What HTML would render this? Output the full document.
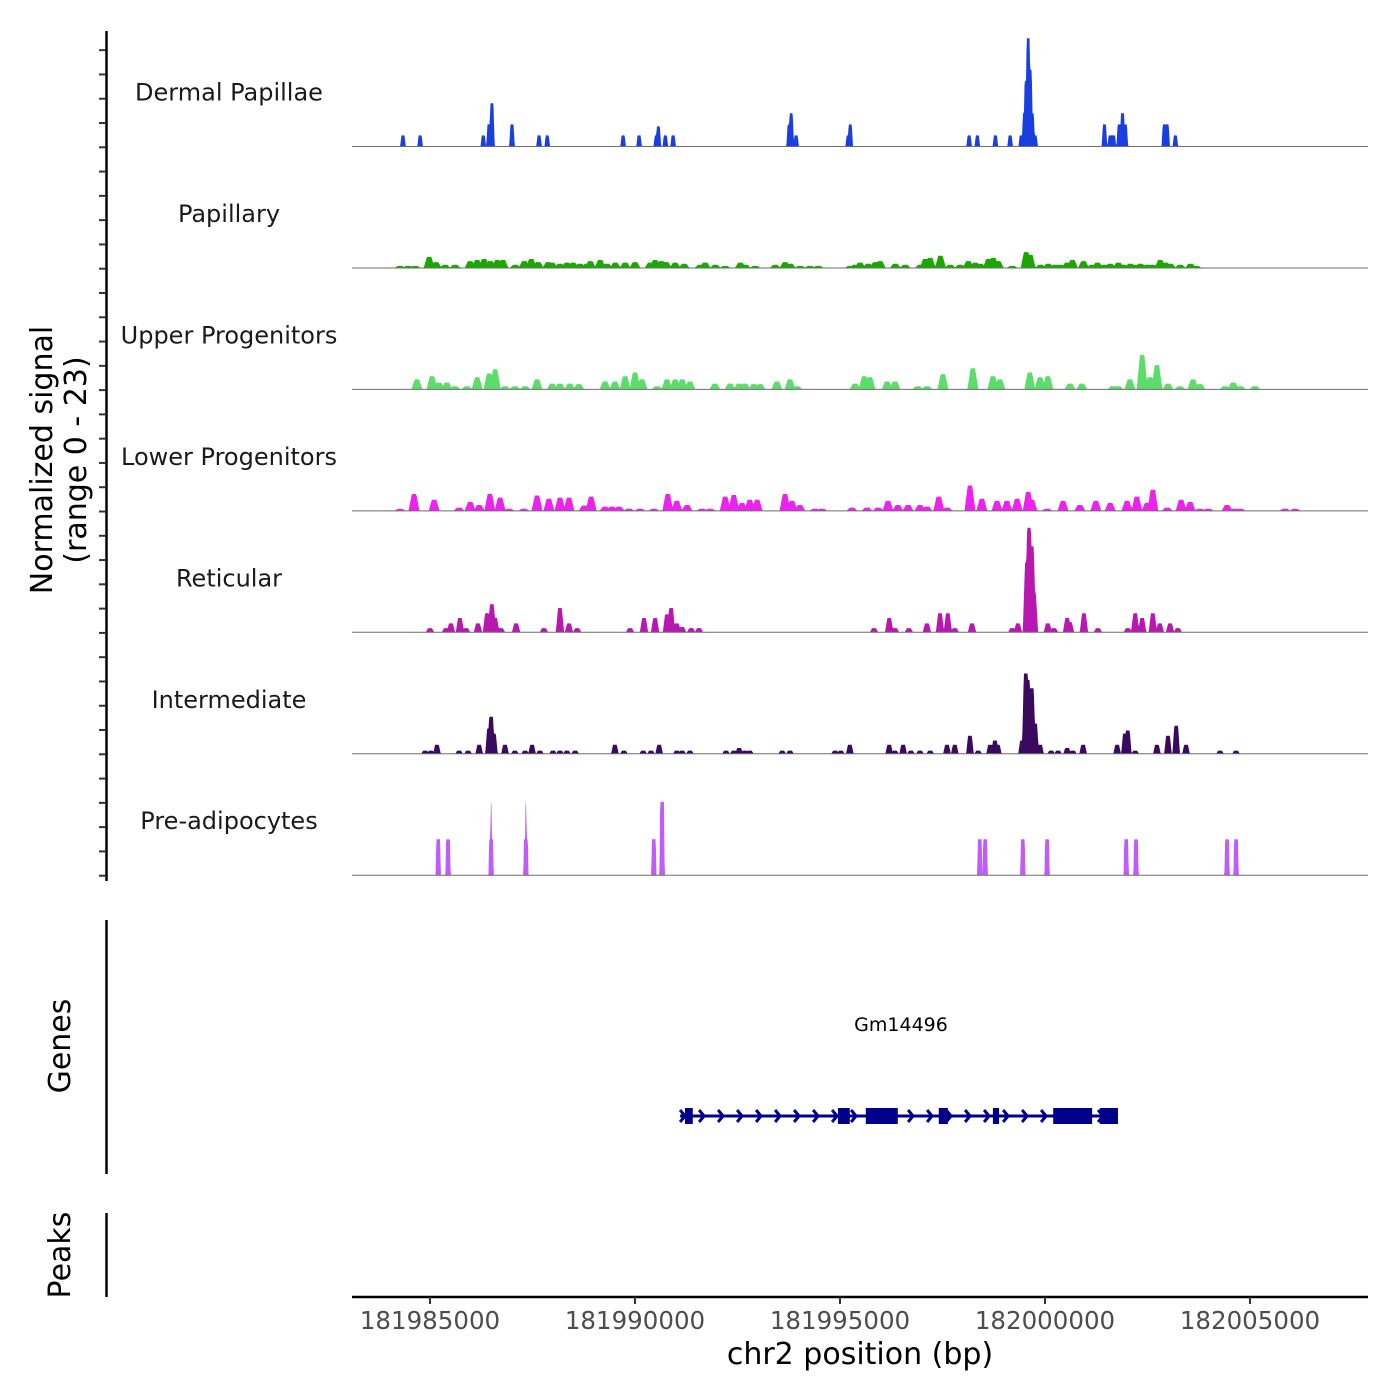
<!DOCTYPE html>
<html><head><meta charset="utf-8"><style>
html,body{margin:0;padding:0;background:#fff}
svg{display:block;font-family:"DejaVu Sans","Liberation Sans",sans-serif}
</style></head><body>
<svg id="chart" width="1400" height="1400" viewBox="0 0 1400 1400" xmlns="http://www.w3.org/2000/svg">
<rect width="1400" height="1400" fill="#fff"/>
<g id="tracks"></g>
<g id="labels"></g>
<g id="yaxis"></g>
<text transform="translate(52,460) rotate(-90)" text-anchor="middle" font-size="30" fill="#000">Normalized signal</text>
<text transform="translate(86,460) rotate(-90)" text-anchor="middle" font-size="30" fill="#000">(range 0 - 23)</text>
<line x1="106.5" y1="920" x2="106.5" y2="1174" stroke="#000" stroke-width="2.5"/>
<text transform="translate(70,1046) rotate(-90)" text-anchor="middle" font-size="30" fill="#000">Genes</text>
<line x1="106.5" y1="1213" x2="106.5" y2="1297" stroke="#000" stroke-width="2.5"/>
<text transform="translate(70,1255) rotate(-90)" text-anchor="middle" font-size="30" fill="#000">Peaks</text>
<g id="gene"></g>
<g id="xaxis"></g>
<text x="860" y="1364" text-anchor="middle" font-size="30" fill="#000">chr2 position (bp)</text>
</svg>
<script>
// ---- data (positions in kb offset from chr2:181,980,000; values = normalized signal) ----
const ORIGIN_BP = 181980000;
const trackNames = ["Dermal Papillae","Papillary","Upper Progenitors","Lower Progenitors","Reticular","Intermediate","Pre-adipocytes"];
const trackColors = ["#1a3fe0","#1aa800","#5cdc6a","#ee22ee","#b818b0","#3a0a5e","#c05cf8"];
const yMaxSignal = 23;

const dermalPos = [4.34,4.76,6.30,6.44,6.51,7.00,7.66,7.86,9.71,10.10,10.52,10.57,10.74,10.93,13.76,13.81,13.93,15.20,15.25,18.15,18.35,18.79,19.15,19.42,19.50,19.54,19.59,19.64,19.69,19.76,21.45,21.59,21.67,21.81,21.89,21.96,22.91,22.98,23.18];
const dermalVal = [2.1,2.1,2.1,4.2,8.2,4.2,2.1,2.1,2.1,2.1,2.1,3.8,2.1,2.1,4.2,6.3,2.1,2.1,4.2,2.1,2.1,2.1,2.1,2.1,6.3,12.4,20.5,14.5,6.3,2.1,4.2,2.1,2.1,4.2,6.3,4.2,4.2,4.2,2.1];

const papPos = [4.27,4.47,4.64,4.98,5.15,5.37,5.61,5.98,6.15,6.32,6.47,6.64,6.78,7.08,7.30,7.47,7.64,7.88,7.98,8.17,8.34,8.49,8.66,8.83,8.91,9.15,9.32,9.52,9.76,10.00,10.37,10.49,10.64,10.76,10.98,11.20,11.59,11.71,11.96,12.20,12.57,12.69,12.93,13.42,13.66,13.79,14.03,14.27,14.47,15.25,15.37,15.49,15.69,15.86,15.98,16.35,16.59,16.96,17.08,17.20,17.45,17.69,17.93,18.13,18.30,18.42,18.62,18.74,18.86,19.20,19.54,19.64,19.89,20.08,20.25,20.37,20.54,20.67,20.94,21.15,21.28,21.45,21.59,21.79,21.91,22.08,22.20,22.33,22.50,22.62,22.81,22.94,23.06,23.30,23.55,23.69];
const papVal = [0.4,0.4,0.4,2.1,1.1,0.6,0.6,1.3,1.5,1.7,1.3,1.5,1.5,0.6,1.3,1.7,1.1,1.1,1.0,0.8,1.0,1.0,0.8,0.8,1.3,1.5,0.8,1.0,1.0,1.1,1.0,1.5,1.3,1.1,1.0,0.8,0.6,1.0,0.6,0.4,1.0,0.6,0.4,0.6,1.1,0.8,0.4,0.4,0.4,0.4,0.6,1.0,0.8,1.1,1.3,0.8,0.6,0.6,1.7,1.9,2.3,0.6,0.6,1.3,1.0,0.8,1.7,1.9,1.3,0.4,3.0,2.5,0.6,0.8,0.6,0.6,1.0,1.5,1.3,0.6,1.0,0.6,0.8,1.0,0.6,0.8,0.6,0.8,0.6,0.6,1.5,1.0,0.8,0.6,0.8,0.4];

const upperPos = [4.68,5.05,5.22,5.41,5.61,5.90,6.15,6.44,6.59,6.83,7.07,7.32,7.61,7.98,8.17,8.41,8.63,9.27,9.51,9.76,10.00,10.17,10.54,10.78,10.98,11.15,11.34,11.95,12.32,12.54,12.68,12.90,13.05,13.46,13.78,13.95,15.37,15.59,15.73,16.15,16.34,16.90,17.12,17.51,18.24,18.73,18.90,19.63,19.88,20.07,20.61,20.90,21.66,21.78,22.07,22.37,22.56,22.73,23.00,23.29,23.61,23.78,24.39,24.59,24.76,25.12];
const upperVal = [1.9,2.5,1.3,1.3,0.6,0.6,2.3,3.0,3.8,0.6,0.6,0.6,1.9,1.1,1.1,1.1,1.0,1.5,1.5,2.5,3.2,1.9,0.6,1.9,1.9,1.9,1.5,1.1,1.1,1.1,1.1,1.0,1.0,1.5,1.9,0.6,1.1,2.5,2.3,1.5,1.5,0.6,0.6,2.9,4.0,2.5,1.9,3.2,2.3,2.5,1.1,1.1,0.6,0.6,1.9,6.5,2.3,4.6,1.1,0.6,1.9,1.0,0.6,1.3,0.6,0.6];

const lowerPos = [4.27,4.61,5.10,5.71,5.98,6.20,6.46,6.71,6.93,7.29,7.61,7.90,8.17,8.39,8.76,8.93,9.27,9.44,9.61,9.85,10.12,10.46,10.80,11.02,11.27,11.63,11.83,12.20,12.41,12.61,12.80,12.98,13.66,13.83,14.02,14.39,14.56,15.29,15.66,15.93,16.17,16.41,16.66,16.95,17.12,17.41,17.61,18.17,18.46,18.83,19.07,19.32,19.59,19.68,20.05,20.44,20.85,21.24,21.59,22.00,22.24,22.49,22.63,22.98,23.32,23.54,23.78,23.98,24.44,24.63,24.76,25.85,26.10];
const lowerVal = [0.4,3.2,2.1,0.6,1.7,1.1,3.2,2.5,0.4,0.4,2.9,2.3,2.5,2.5,1.0,2.7,0.8,0.8,0.8,0.4,0.4,0.4,3.2,1.9,1.1,0.4,0.4,2.7,3.0,1.5,2.1,2.1,3.2,1.9,1.1,0.4,0.4,0.6,0.6,0.6,1.9,1.1,1.1,1.1,0.8,2.7,0.6,4.8,2.3,1.9,1.9,2.3,3.6,2.1,0.4,1.9,1.1,1.9,1.5,1.9,2.7,1.5,4.0,0.6,2.1,1.7,0.4,0.4,1.1,0.4,0.4,0.4,0.4];

const retPos = [5.00,5.39,5.51,5.73,5.88,6.17,6.39,6.51,6.59,6.73,7.10,7.78,8.17,8.39,8.59,9.88,10.22,10.49,10.78,10.88,11.02,11.15,11.37,11.56,15.83,16.20,16.34,16.68,17.12,17.44,17.63,17.80,18.22,19.20,19.34,19.56,19.61,19.68,19.73,20.07,20.22,20.54,20.61,20.95,21.29,22.02,22.20,22.37,22.63,22.80,23.05,23.24];
const retVal = [0.8,0.8,1.7,2.7,0.8,1.7,3.6,5.3,2.7,0.8,1.7,0.8,4.6,1.7,0.8,0.8,2.7,2.7,3.4,4.6,1.7,1.0,0.8,0.8,0.8,2.7,0.8,0.8,1.7,3.6,3.6,0.8,1.7,0.8,1.7,13.3,19.8,16.3,7.6,1.7,0.8,2.7,1.9,3.6,0.8,0.8,3.6,2.7,3.6,1.7,1.7,0.8];

const intPos = [4.88,5.02,5.17,5.71,5.93,6.20,6.44,6.49,6.56,6.83,7.07,7.32,7.49,7.68,8.00,8.17,8.34,8.54,9.51,9.73,10.20,10.39,10.59,11.02,11.15,11.34,12.22,12.41,12.54,12.68,12.80,13.59,13.78,14.88,15.02,15.24,16.20,16.34,16.54,16.73,16.95,17.20,17.61,17.80,18.17,18.37,18.66,18.78,18.85,19.44,19.53,19.58,19.68,19.76,19.88,20.15,20.32,20.54,20.68,20.93,21.76,21.95,22.02,22.20,22.73,23.00,23.20,23.44,24.27,24.66];
const intVal = [0.6,0.6,1.7,0.6,0.6,1.7,4.8,7.0,3.8,1.7,0.6,0.6,1.7,0.6,0.6,0.6,0.6,0.6,1.7,0.6,0.6,0.6,1.7,0.6,0.6,0.6,0.6,0.6,1.1,0.6,0.6,0.6,0.6,0.6,0.6,1.7,1.7,0.6,1.7,0.6,0.6,0.6,1.7,1.7,3.4,0.6,1.7,2.5,1.7,2.5,15.2,14.0,12.4,5.7,1.7,0.6,0.6,1.1,0.6,1.7,1.7,3.8,4.4,0.6,1.7,3.4,5.3,1.7,0.6,0.6];

const prePos = [5.20,5.44,6.49,7.34,10.46,10.66,18.41,18.54,19.46,20.05,21.98,22.22,24.44,24.66];
const preVal = [6.8,6.8,6.8,6.8,6.8,13.9,6.8,6.8,6.8,6.8,6.8,6.8,6.8,6.8];
const preSpikePos = [6.49,7.34];
const preSpikeVal = [13.9,13.9];

const xTickVals = [181985000,181990000,181995000,182000000,182005000];
const xTickLabels = ["181985000","181990000","181995000","182000000","182005000"];

const geneName = "Gm14496";
const geneStartKb = 11.10, geneEndKb = 21.78;
const exonStarts = [11.22,14.95,15.63,17.41,18.73,20.20,21.34];
const exonEnds   = [11.41,15.24,16.41,17.63,18.88,21.15,21.78];

// ---- scales ----
const X0 = 352, X1 = 1368, BP0 = 181983098, PXBP = 0.041;
function xScale(bp){ return X0 + (bp - BP0) * PXBP; }
function xKb(kb){ return xScale(ORIGIN_BP + kb*1000); }
const baseY0 = 146.5, trackStep = 121.45;
function baseline(i){ return baseY0 + i*trackStep; }
function yScale(i, v){ return baseline(i) - v / yMaxSignal * trackStep; }

const NS = "http://www.w3.org/2000/svg";
function mk(tag, attrs, parent){ const e = document.createElementNS(NS, tag); for (const k in attrs) e.setAttribute(k, attrs[k]); if (parent) parent.appendChild(e); return e; }

const trackPos = [dermalPos, papPos, upperPos, lowerPos, retPos, intPos, prePos];
const trackVal = [dermalVal, papVal, upperVal, lowerVal, retVal, intVal, preVal];
const halfW = [2.8, 5.5, 5.5, 5.5, 4.2, 3.8, 2.6]; // px half-widths of peak shape
const plateau = [0.45, 0.6, 0.6, 0.6, 0.55, 0.5, 0.25];
const gT = document.getElementById('tracks');
const gL = document.getElementById('labels');

function profilePath(i, pos, val, hw, pl, extraPos, extraVal, extraHw){
  const step = 0.5; let d = "M" + X0 + "," + baseline(i);
  const cx = pos.map(xKb), ex = (extraPos||[]).map(xKb);
  for (let x = X0; x <= X1; x += step){
    let v = 0;
    for (let k = 0; k < cx.length; k++){
      const dist = Math.abs(x - cx[k]);
      if (dist < hw){ const f = Math.min(1, (hw - dist) / (hw*pl)); v = Math.max(v, val[k]*f); }
    }
    for (let k = 0; k < ex.length; k++){
      const dist = Math.abs(x - ex[k]);
      if (dist < extraHw){ const f = Math.min(1, (extraHw - dist)/(extraHw*0.6)); v = Math.max(v, extraVal[k]*f); }
    }
    d += "L" + x.toFixed(1) + "," + yScale(i, v).toFixed(2);
  }
  d += "L" + X1 + "," + baseline(i) + "Z";
  return d;
}

for (let i = 0; i < trackNames.length; i++){
  const g = mk('g', {}, gT);
  
  
  const isPre = i === 6;
  const p = mk('path', {d: profilePath(i, trackPos[i], trackVal[i], halfW[i], plateau[i], isPre?preSpikePos:null, isPre?preSpikeVal:null, 1.0), fill: trackColors[i]}, g);
  
  
  const bl = mk('line', {x1: X0, x2: X1, y1: baseline(i), y2: baseline(i), stroke: '#6e6e6e', 'stroke-width': 1}, g);
  
  
  const t = mk('text', {x: 229, y: baseline(i) - 46, 'text-anchor': 'middle', 'font-size': 24, fill: '#1a1a1a'}, gL);
  
  
  t.textContent = trackNames[i];
}

// y axis with ticks
const gY = document.getElementById('yaxis');
const yl = mk('line', {x1: 106.5, x2: 106.5, y1: 31, y2: 881, stroke: '#000', 'stroke-width': 2.5}, gY);


for (let k = 0; k < 35; k++){
  const y = 875.7 - k*24.28;
  const tk = mk('line', {x1: 99, x2: 106, y1: y, y2: y, stroke: '#333', 'stroke-width': 2}, gY);
  
  
}

// gene track
const gG = document.getElementById('gene');
const gy = 1116, gcol = '#00008b';
const gl = mk('line', {x1: xKb(geneStartKb), x2: xKb(geneEndKb), y1: gy, y2: gy, stroke: gcol, 'stroke-width': 3}, gG);


for (let x = xKb(geneStartKb) + 3; x < xKb(geneEndKb) - 4; x += 19){
  const ch = mk('polyline', {points: (x-3)+","+(gy-6)+" "+(x+2)+","+gy+" "+(x-3)+","+(gy+6), fill: 'none', stroke: gcol, 'stroke-width': 3}, gG);
  
  
}
for (let k = 0; k < exonStarts.length; k++){
  const x0 = xKb(exonStarts[k]), x1 = xKb(exonEnds[k]);
  const r = mk('rect', {x: x0, y: gy - 8, width: Math.max(3, x1 - x0), height: 16, fill: gcol}, gG);
  
  
}
const gt = mk('text', {x: (xKb(geneStartKb)+xKb(geneEndKb))/2 + 2, y: 1031, 'text-anchor': 'middle', 'font-size': 19, fill: '#000'}, gG);


gt.textContent = geneName;

// x axis
const gX = document.getElementById('xaxis');
const xl = mk('line', {x1: X0, x2: X1, y1: 1297, y2: 1297, stroke: '#000', 'stroke-width': 2.5}, gX);


for (let k = 0; k < xTickVals.length; k++){
  const x = xScale(xTickVals[k]);
  const tk = mk('line', {x1: x, x2: x, y1: 1297, y2: 1304, stroke: '#333', 'stroke-width': 2}, gX);
  
  
  const tl = mk('text', {x: x, y: 1329, 'text-anchor': 'middle', 'font-size': 24.5, fill: '#4d4d4d'}, gX);
  
  
  tl.textContent = xTickLabels[k];
}
</script>
</body></html>
